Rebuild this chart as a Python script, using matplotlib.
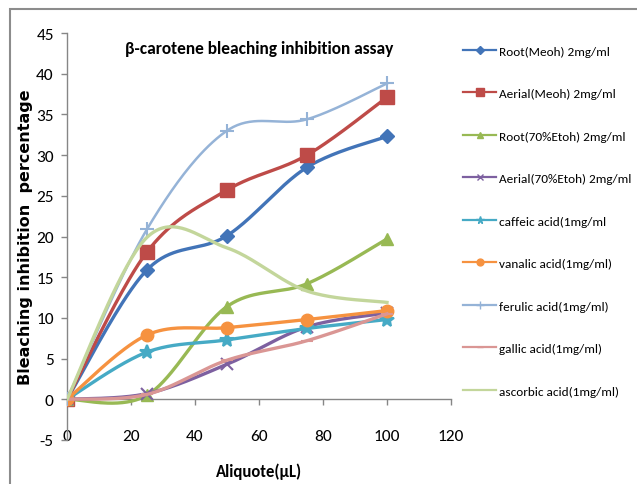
import numpy as np
import matplotlib
matplotlib.use('Agg')
import matplotlib.pyplot as plt
from matplotlib.patches import Rectangle

plt.rcParams['font.family'] = ['Carlito', 'Lato', 'DejaVu Sans']
plt.rcParams['axes.unicode_minus'] = False

x = [0, 25, 50, 75, 100]
series_names = ['Root(Meoh) 2mg/ml', 'Aerial(Meoh) 2mg/ml', 'Root(70%Etoh) 2mg/ml',
                'Aerial(70%Etoh) 2mg/ml', 'caffeic acid(1mg/ml', 'vanalic acid(1mg/ml)',
                'ferulic acid(1mg/ml)', 'gallic acid(1mg/ml)', 'ascorbic acid(1mg/ml)']
root_meoh = [0, 15.9, 20.1, 28.5, 32.3]
aerial_meoh = [0, 18.1, 25.7, 30.0, 37.1]
root_etoh = [0, 0.5, 11.4, 14.2, 19.7]
aerial_etoh = [0, 0.7, 4.3, 8.9, 10.6]
caffeic = [0, 5.8, 7.3, 8.7, 9.8]
vanalic = [0, 7.9, 8.8, 9.8, 10.9]
ferulic = [0, 20.9, 33.0, 34.4, 38.8]
gallic = [0, 0.6, 4.8, 7.2, 10.5]
ascorbic = [0, 19.9, 18.6, 13.3, 11.9]
all_values = [root_meoh, aerial_meoh, root_etoh, aerial_etoh, caffeic,
              vanalic, ferulic, gallic, ascorbic]

colors = ['#4274B8', '#BE4B48', '#98B954', '#7D60A0', '#46AAC5',
          '#F69240', '#95B3D7', '#DA9694', '#C3D69B']
markers = ['D', 's', '^', 'x', '*', 'o', '+', '_', 'None']
msizes = [7, 9.5, 9, 9, 10, 9, 10, 8, 0]
lwidths = [2.4, 2.4, 2.4, 2.4, 2.4, 2.4, 1.8, 2.4, 2.4]


def smooth(xs, ys, n=40):
    # Excel-like smoothed line: Catmull-Rom as cubic Bezier segments
    px = np.array(xs, float)
    py = np.array(ys, float)
    px = np.concatenate([[px[0]], px, [px[-1]]])
    py = np.concatenate([[py[0]], py, [py[-1]]])
    t = np.linspace(0, 1, n)
    ox, oy = [], []
    for i in range(1, len(px) - 2):
        p0 = np.array([px[i], py[i]])
        p3 = np.array([px[i + 1], py[i + 1]])
        c1 = p0 + (np.array([px[i + 1], py[i + 1]]) - np.array([px[i - 1], py[i - 1]])) / 6
        c2 = p3 - (np.array([px[i + 2], py[i + 2]]) - np.array([px[i], py[i]])) / 6
        b = ((1 - t) ** 3)[:, None] * p0 + (3 * (1 - t) ** 2 * t)[:, None] * c1 \
            + (3 * (1 - t) * t ** 2)[:, None] * c2 + (t ** 3)[:, None] * p3
        ox.extend(b[:, 0])
        oy.extend(b[:, 1])
    return ox, oy


fig = plt.figure(figsize=(6.37, 4.85), dpi=100)
fig.patches.append(Rectangle((10 / 637, -0.1), 1.2, 1 - 10 / 485 + 0.1,
                             transform=fig.transFigure, fill=False,
                             edgecolor='#8C8C8C', lw=1.5))
ax = fig.add_axes([67 / 637, 44 / 485, 384 / 637, 407 / 485])

for i, ys in enumerate(all_values):
    sx, sy = smooth(x, ys)
    ax.plot(sx, sy, color=colors[i], lw=lwidths[i], zorder=2 + i)
    mew = 1.5 if markers[i] in ('x', '*', '+', '_') else 1
    ax.plot(x, ys, linestyle='None', marker=markers[i], ms=msizes[i],
            color=colors[i], mew=mew, zorder=2 + i)
    ax.plot([], [], color=colors[i], lw=1.6, marker=markers[i],
            ms=msizes[i] * 0.55, mew=1, label=series_names[i])

ax.set_xlim(0, 120)
ax.set_ylim(-5, 45)
ax.set_xticks(range(0, 121, 20))
ax.set_yticks(range(-5, 46, 5))
ax.spines['top'].set_visible(False)
ax.spines['right'].set_visible(False)
ax.spines['bottom'].set_position(('data', 0))
for s in ('left', 'bottom'):
    ax.spines[s].set_color('#868686')
    ax.spines[s].set_linewidth(1)
ax.tick_params(axis='both', colors='#868686', labelcolor='black',
               labelsize=12.5, length=4.5, width=1)
ax.tick_params(axis='x', pad=17)
ax.tick_params(axis='y', pad=5)

ax.set_title('β-carotene bleaching inhibition assay', fontsize=12.5,
             fontweight='bold', x=0.5, y=0.93)
ax.set_ylabel('Bleaching inhibition  percentage', fontsize=11.5,
              fontweight='bold', family=['DejaVu Sans'])
ax.yaxis.set_label_coords(-0.109, 0.5)
ax.set_xlabel('Aliquote(μL)', fontsize=12, fontweight='bold')
ax.xaxis.set_label_coords(0.5, -0.076)
ax.xaxis.label.set_va('center')
ax.yaxis.label.set_va('center')

ax.legend(loc='upper left', bbox_to_anchor=(458 / 637, 444 / 485),
          bbox_transform=fig.transFigure, frameon=False, fontsize=9.5,
          labelspacing=2.37, handlelength=2.5, handletextpad=0.2,
          borderaxespad=0)

fig.savefig('out.png', dpi=100)
